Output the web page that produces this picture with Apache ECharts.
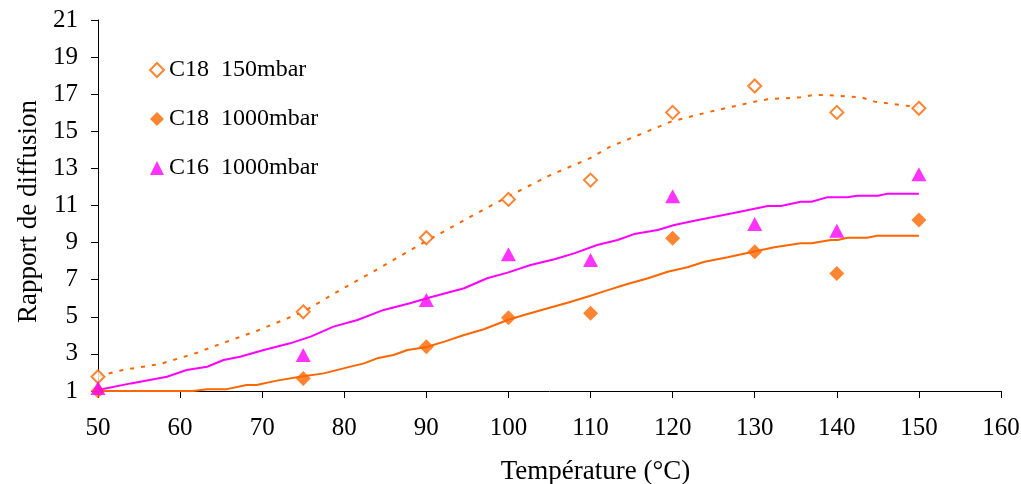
<!DOCTYPE html>
<html>
<head>
<meta charset="utf-8">
<script src="https://cdn.jsdelivr.net/npm/echarts@6/dist/echarts.min.js"></script>
<style>html,body{margin:0;padding:0;background:#fff}#c{width:1021px;height:484px}</style>
</head>
<body>
<div id="c"></div>
<script>
// Measured points
const tempPts = [50, 75, 90, 100, 110, 120, 130, 140, 150];
const c18_150 = [1.77, 5.27, 9.26, 11.33, 12.37, 16.02, 17.44, 16.02, 16.24];
const c18_1000 = [1.0, 1.68, 3.39, 4.95, 5.19, 9.23, 8.51, 7.34, 10.22];
const c16_1000 = [1.16, 2.94, 5.9, 8.37, 8.06, 11.5, 10.0, 9.64, 12.68];

// Model curves
const modelT150 = [50, 53, 57.6, 62, 65.3, 69.4, 75, 79.5, 83.5, 89.6, 95.4, 99.9, 105.1, 109.9, 112.4, 119.8, 124.5, 130, 131.6, 135.6, 137.2, 138.8, 143, 144.6, 147.7, 150];
const modelV150 = [1.8, 2.13, 2.46, 3.05, 3.6, 4.25, 5.27, 6.44, 7.43, 8.98, 10.4, 11.47, 12.64, 13.54, 14.17, 15.52, 16.05, 16.6, 16.73, 16.83, 16.96, 16.96, 16.83, 16.6, 16.42, 16.3];

const modelTC16 = [50, 54, 58.4, 60.8, 63.3, 65.3, 67.3, 70.2, 73.4, 75.9, 78.7, 81.6, 84.8, 88.0, 90.5, 94.6, 97.4, 99.9, 102.7, 105.6, 108, 110.8, 113.3, 115.3, 118.2, 120.2, 123.1, 127.3, 131.6, 133.2, 135.6, 136.9, 138.8, 141.3, 142.5, 145, 146.2, 150];
const modelVC16 = [1.05, 1.41, 1.77, 2.13, 2.31, 2.67, 2.85, 3.21, 3.57, 3.93, 4.47, 4.83, 5.37, 5.73, 6.05, 6.54, 7.08, 7.38, 7.79, 8.1, 8.42, 8.87, 9.14, 9.46, 9.68, 9.95, 10.22, 10.58, 10.97, 10.97, 11.2, 11.2, 11.44, 11.44, 11.53, 11.53, 11.64, 11.64];

const modelTC18 = [50, 61.6, 63.3, 65.7, 68.1, 69.3, 71.8, 74.6, 77.5, 79.9, 82.4, 84.0, 86.0, 87.7, 89.9, 92.2, 94.6, 97.0, 99.9, 101.9, 104.8, 107.2, 109.9, 112.1, 114.5, 117, 119.4, 121.8, 123.9, 126.7, 129.8, 132.4, 135.6, 136.9, 139.3, 140.1, 141.3, 143.7, 144.9, 150];
const modelVC18 = [1.0, 1.0, 1.1, 1.1, 1.32, 1.32, 1.56, 1.77, 1.95, 2.22, 2.49, 2.76, 2.94, 3.21, 3.36, 3.66, 4.02, 4.33, 4.83, 5.1, 5.46, 5.76, 6.12, 6.44, 6.77, 7.08, 7.43, 7.67, 7.97, 8.21, 8.51, 8.75, 8.96, 8.96, 9.14, 9.14, 9.26, 9.26, 9.37, 9.37];

const seriesNames = ['C18  150mbar', 'C18  1000mbar', 'C16  1000mbar'];
const xTitle = 'Température (°C)';
const yTitle = 'Rapport de diffusion';

const ORANGE = '#FF6600';
const MAGENTA = '#FF00FF';
const FONT = '"Liberation Serif", "DejaVu Serif", serif';

function pairs(xs, ys) { return xs.map((x, i) => [x, ys[i]]); }

const chart = echarts.init(document.getElementById('c'), null, {renderer: 'canvas'});
chart.setOption({
  animation: false,
  backgroundColor: '#fff',
  textStyle: {fontFamily: FONT},
  grid: {left: 98, right: 20, top: 20, bottom: 93, containLabel: false, outerBoundsMode: 'none'},
  legend: {
    orient: 'vertical',
    left: 144, top: 53,
    itemGap: 25,
    itemWidth: 14, itemHeight: 14,
    textStyle: {fontFamily: FONT, fontSize: 24, lineHeight: 24, color: '#000'},
    data: seriesNames
  },
  xAxis: {
    type: 'value', min: 50, max: 160, interval: 10,
    name: xTitle, nameLocation: 'middle', nameGap: 67,
    nameTextStyle: {fontFamily: FONT, fontSize: 27, color: '#000', padding: [0, 0, 0, 92]},
    axisLine: {show: true, lineStyle: {color: '#000', width: 1}},
    axisTick: {show: true, inside: false, length: 7, lineStyle: {color: '#000'}},
    axisLabel: {fontFamily: FONT, fontSize: 25, color: '#000', margin: 25},
    splitLine: {show: false}
  },
  yAxis: {
    type: 'value', min: 1, max: 21, interval: 2,
    name: yTitle, nameLocation: 'middle', nameGap: 54, nameRotate: 90,
    nameTextStyle: {fontFamily: FONT, fontSize: 27, color: '#000', padding: [0, 12, 0, 0]},
    axisLine: {show: true, lineStyle: {color: '#000', width: 1}},
    axisTick: {show: true, inside: false, length: 7, lineStyle: {color: '#000'}},
    axisLabel: {fontFamily: FONT, fontSize: 25, color: '#000', margin: 20},
    splitLine: {show: false}
  },
  series: [
    {
      type: 'line', name: 'model150', data: pairs(modelT150, modelV150),
      showSymbol: false, symbol: 'none', smooth: false,
      lineStyle: {color: ORANGE, width: 2, type: [4, 7]}, z: 2
    },
    {
      type: 'line', name: 'modelC16', data: pairs(modelTC16, modelVC16),
      showSymbol: false, symbol: 'none',
      lineStyle: {color: MAGENTA, width: 2}, z: 2
    },
    {
      type: 'line', name: 'modelC18', data: pairs(modelTC18, modelVC18),
      showSymbol: false, symbol: 'none',
      lineStyle: {color: ORANGE, width: 2}, z: 2
    },
    {
      type: 'scatter', name: seriesNames[0], data: pairs(tempPts, c18_150),
      symbol: 'diamond', symbolSize: 13, clip: false,
      itemStyle: {color: '#fff', borderColor: ORANGE, borderWidth: 2}, z: 3
    },
    {
      type: 'scatter', name: seriesNames[1], data: pairs(tempPts, c18_1000),
      symbol: 'diamond', symbolSize: 15, clip: false,
      itemStyle: {color: ORANGE}, z: 3
    },
    {
      type: 'scatter', name: seriesNames[2], data: pairs(tempPts, c16_1000),
      symbol: 'triangle', symbolSize: [15, 14], clip: false,
      itemStyle: {color: MAGENTA}, z: 4
    }
  ]
});
</script>
</body>
</html>
